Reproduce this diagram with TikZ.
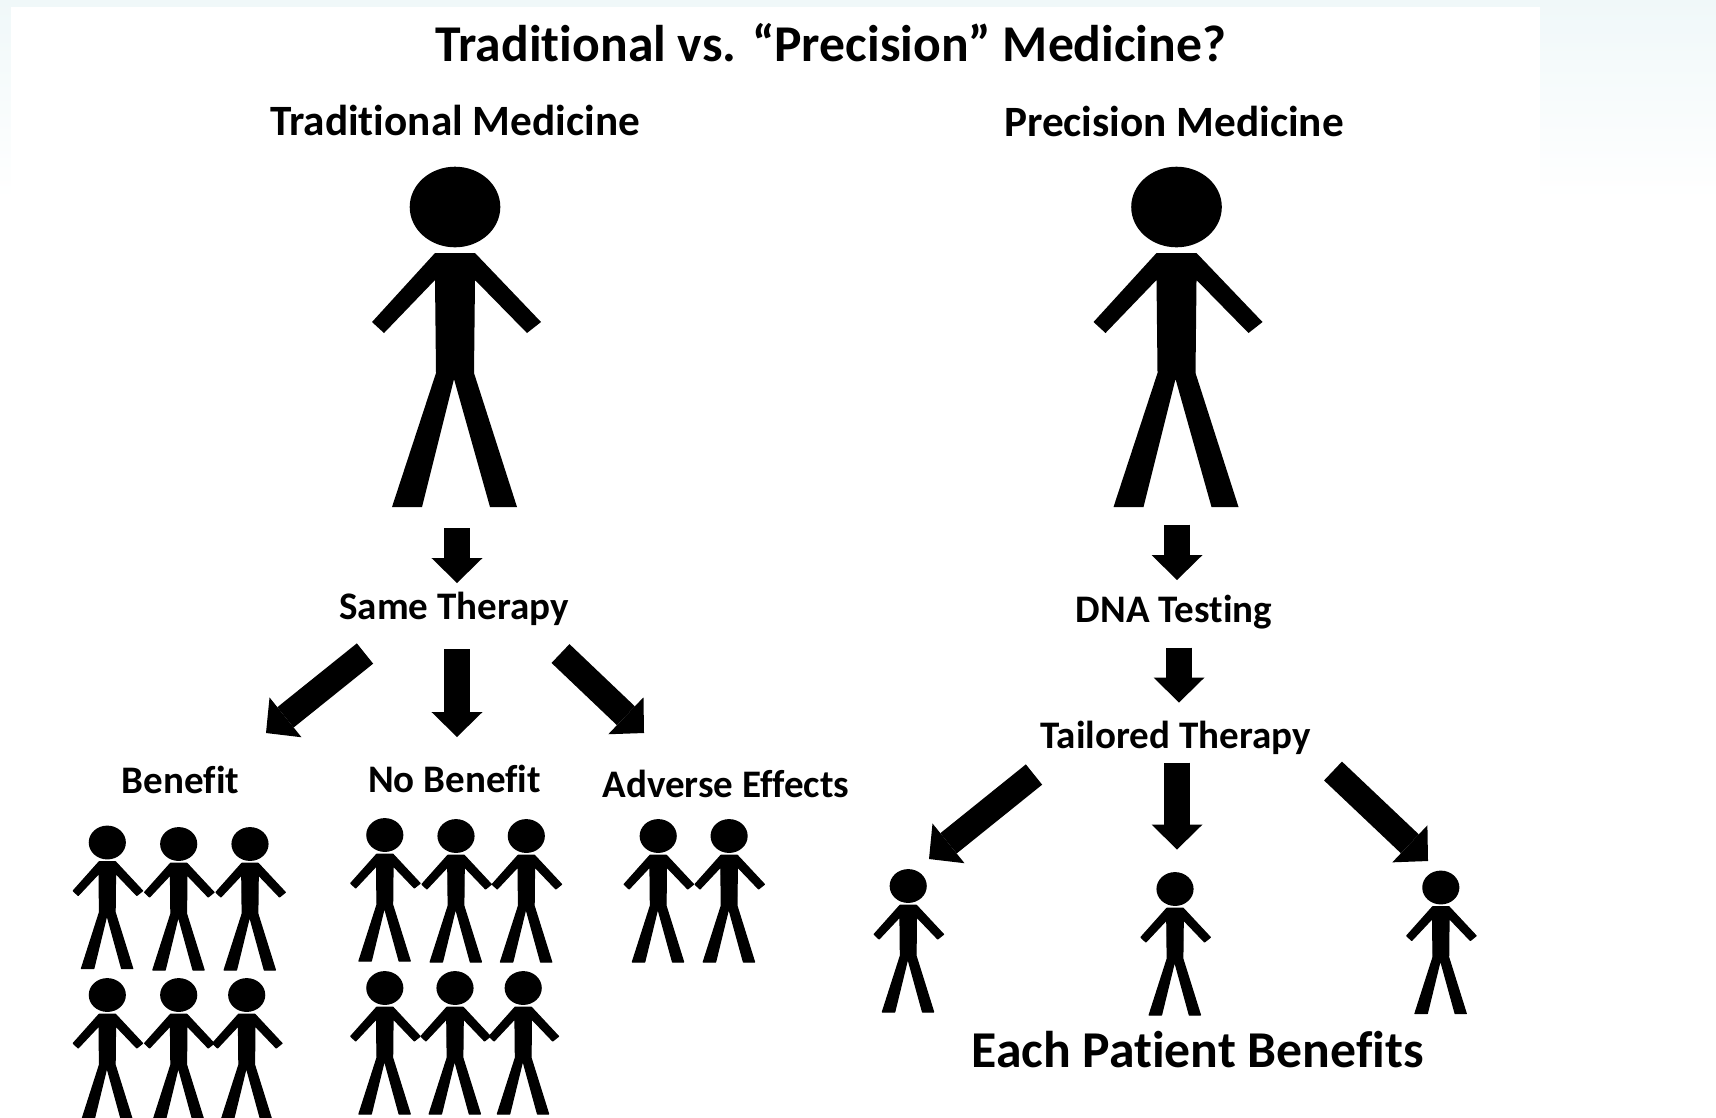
\documentclass[tikz,border=0pt]{standalone}
\usepackage{fontspec}
\setmainfont[Ligatures=NoCommon]{Carlito}
\usepackage{xcolor}
\usetikzlibrary{arrows.meta}
\definecolor{paletint}{HTML}{F0F8F9}
\tikzset{
  label/.style={inner sep=0pt,anchor=base,font=\bfseries\fontsize{#1}{#1}\selectfont},
  bigarrow/.style={line width=.26cm,-{Triangle[length=.25cm,width=.51cm,line width=0pt]}},
  smallman/.style={draw,line width=.35pt,line join=round},
}
\newcommand{\stickman}[5][]{
\begin{scope}[shift={(#2,#3)},xscale=#4,yscale=#5]
\fill (0,0) ellipse (45.3 and 40.3);
\fill[#1] (-20,46)--(20,46)--(86,115)--(72,126)--(20,73)--(19,166)--(62,300)--(35,300)
  --(-1,172)--(-33,300)--(-63,300)--(-19,166)--(-20,73)--(-71,126)--(-83,115)--cycle;
\end{scope}
}
\begin{document}
\begin{tikzpicture}[x=.01cm,y=-.01cm]
\useasboundingbox (0,0) rectangle (1716,1117);
\clip (0,0) rectangle (1716,1117);
\shade[top color=paletint,bottom color=white] (0,0) rectangle (1716,200);
\fill[white] (11,7) rectangle (1540,1117);

\node[label=14.68pt] (title) at (831,61.5) {Traditional vs. “Precision” Medicine?};
\node[label=12.3pt] (tradhead) at (455,135) {Traditional Medicine};
\node[label=12.3pt] (prechead) at (1174,136) {Precision Medicine};
\node[label=11.1pt] (same) at (454,619) {Same Therapy};
\node[label=11.1pt] (dna) at (1174,622.5) {DNA Testing};
\node[label=11.1pt] (tailored) at (1175.5,748.5) {Tailored Therapy};
\node[label=11.1pt] (benefit) at (180.5,793) {Benefit};
\node[label=11.1pt] (nobenefit) at (454.5,792.5) {No Benefit};
\node[label=11.1pt] (adverse) at (726,797) {Adverse Effects};
\node[label=14.7pt] (each) at (1197.5,1067) {Each Patient Benefits};

\stickman{455}{207}{1}{1}
\stickman{1176.5}{207}{1}{1}
\foreach \x/\y in {107.3/842.5,178.7/844,250/844,107.3/995,178.7/995,246.7/995}
  \stickman[smallman]{\x}{\y}{.41}{.42};
\foreach \x/\y in {384.8/835,456/836,526.3/836,384.8/988,455/988,523.2/988,658.2/836,729.1/836}
  \stickman[smallman]{\x}{\y}{.41}{.42};
\foreach \x/\y in {908.2/886,1175/889,1440.8/887.5}
  \stickman[smallman]{\x}{\y}{.41}{.42};

\coordinate (sameA) at (457,528);
\coordinate (sameB) at (457,583);
\coordinate (noA) at (457,649);
\coordinate (noB) at (457,737);
\coordinate (benA) at (365,653.5);
\coordinate (benB) at (266,733);
\coordinate (advA) at (560.5,653.5);
\coordinate (advB) at (644,733);
\coordinate (dnaA) at (1177,524.5);
\coordinate (dnaB) at (1177,580);
\coordinate (tailA) at (1179,647.5);
\coordinate (tailB) at (1179,702.5);
\coordinate (midA) at (1177,762.5);
\coordinate (midB) at (1177,849.5);
\coordinate (leftA) at (1034,774.5);
\coordinate (leftB) at (929,859);
\coordinate (rightA) at (1333,771);
\coordinate (rightB) at (1428,861);
\foreach \a/\b in {sameA/sameB,noA/noB,benA/benB,advA/advB,dnaA/dnaB,tailA/tailB,midA/midB,leftA/leftB,rightA/rightB}
  \draw[bigarrow] (\a)--(\b);
\end{tikzpicture}
\end{document}
